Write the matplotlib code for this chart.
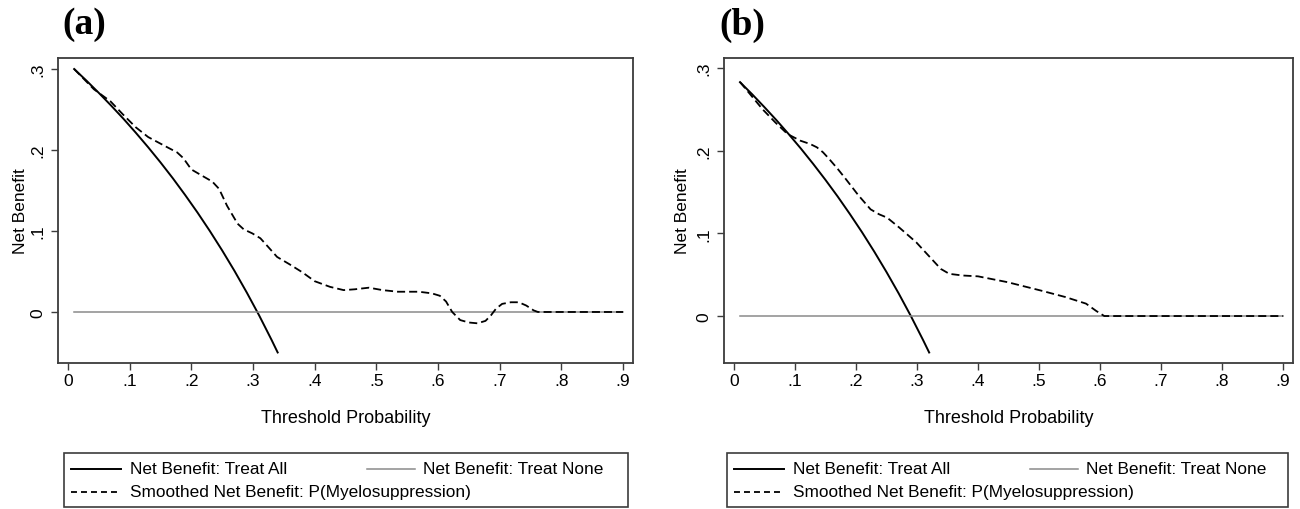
import matplotlib
matplotlib.use("Agg")
import matplotlib.pyplot as plt
from matplotlib.lines import Line2D
from matplotlib.patches import Rectangle

plt.rcParams['font.family'] = ['Liberation Sans', 'DejaVu Sans']
plt.rcParams['lines.scale_dashes'] = False

# panel (a): net benefit, treat all
a_all_x = [0.01, 0.03, 0.05, 0.07, 0.09, 0.11, 0.13, 0.15, 0.17, 0.19, 0.21,
           0.23, 0.25, 0.27, 0.29, 0.31, 0.33, 0.34]
a_all_y = [0.300, 0.2856, 0.2705, 0.2548, 0.2385, 0.2213, 0.2034, 0.1847, 0.1651,
           0.1444, 0.1228, 0.1000, 0.0760, 0.0507, 0.0239, -0.0043, -0.0343, -0.0500]

# panel (a): smoothed net benefit of the model
a_sm_x = [0.01, 0.042, 0.069, 0.089, 0.11, 0.13, 0.157, 0.177, 0.187, 0.20, 0.218,
          0.234, 0.245, 0.258, 0.275, 0.285, 0.299, 0.312, 0.325, 0.339, 0.359,
          0.38, 0.40, 0.425, 0.447, 0.465, 0.488, 0.51, 0.535, 0.569, 0.59, 0.603,
          0.613, 0.623, 0.636, 0.65, 0.664, 0.677, 0.686, 0.694, 0.704, 0.718,
          0.731, 0.743, 0.755, 0.762, 0.80, 0.85, 0.90]
a_sm_y = [0.300, 0.275, 0.260, 0.244, 0.228, 0.216, 0.205, 0.197, 0.190, 0.176, 0.168,
          0.161, 0.152, 0.131, 0.109, 0.102, 0.097, 0.091, 0.080, 0.068, 0.059,
          0.049, 0.038, 0.031, 0.027, 0.028, 0.030, 0.027, 0.025, 0.025, 0.023, 0.020,
          0.013, 0.000, -0.010, -0.013, -0.014, -0.011, -0.004, 0.004, 0.010, 0.012,
          0.012, 0.008, 0.002, 0.000, 0.000, 0.000, 0.000]

# panel (b): net benefit, treat all
b_all_x = [0.01, 0.03, 0.05, 0.07, 0.09, 0.11, 0.13, 0.15, 0.17, 0.19, 0.21,
           0.23, 0.25, 0.27, 0.29, 0.31, 0.32]
b_all_y = [0.2828, 0.2681, 0.2526, 0.2366, 0.2198, 0.2023, 0.1839, 0.1647, 0.1446,
           0.1234, 0.1013, 0.0779, 0.0533, 0.0274, 0.0000, -0.0290, -0.0441]

# panel (b): smoothed net benefit of the model
b_sm_x = [0.01, 0.047, 0.068, 0.088, 0.109, 0.125, 0.136, 0.146, 0.156, 0.17, 0.183,
          0.204, 0.224, 0.238, 0.251, 0.271, 0.285, 0.299, 0.319, 0.339, 0.353,
          0.375, 0.40, 0.448, 0.502, 0.543, 0.577, 0.594, 0.607, 0.70, 0.80, 0.90]
b_sm_y = [0.283, 0.250, 0.234, 0.220, 0.212, 0.208, 0.204, 0.198, 0.190, 0.178, 0.166,
          0.146, 0.129, 0.123, 0.119, 0.107, 0.098, 0.089, 0.073, 0.057, 0.051,
          0.049, 0.048, 0.041, 0.031, 0.023, 0.015, 0.006, 0.000, 0.000, 0.000, 0.000]

none_x = [0.01, 0.90]
none_y = [0.0, 0.0]

x_ticks = [0, .1, .2, .3, .4, .5, .6, .7, .8, .9]
x_labels = ['0', '.1', '.2', '.3', '.4', '.5', '.6', '.7', '.8', '.9']
y_ticks = [0, .1, .2, .3]
y_labels = ['0', '.1', '.2', '.3']

panels = [
    ('(a)', a_all_x, a_all_y, a_sm_x, a_sm_y, (-0.063, 0.3136)),
    ('(b)', b_all_x, b_all_y, b_sm_x, b_sm_y, (-0.0568, 0.312)),
]

W, H = 1300, 510
fig = plt.figure(figsize=(13, 5.1), dpi=100)

ax_left = [58, 724]
ax_width = [575, 569]
ylab_x = [-0.053, -0.060]
leg_left = [64, 727]
leg_width = [564, 561]
tag_x = [62, 719]

dash = (5.8, 2.9)
spine_col = '#3c3c3c'

for i, (tag, ax_, ay_, sx, sy, ylim) in enumerate(panels):
    ax = fig.add_axes([ax_left[i] / W, 1 - 364 / H, ax_width[i] / W, 305 / H])
    ax.plot(ax_, ay_, color='black', lw=1.4)
    ax.plot(none_x, none_y, color='#8a8a8a', lw=1.1)
    ax.plot(sx, sy, color='black', lw=1.3, ls='--', dashes=dash)

    ax.set_xlim(-0.0162, 0.9162)
    ax.set_ylim(*ylim)
    ax.set_xticks(x_ticks)
    ax.set_xticklabels(x_labels, fontsize=12.5)
    ax.set_yticks(y_ticks)
    ax.set_yticklabels(y_labels, fontsize=12.5, rotation=90, va='center')
    ax.tick_params(length=5, width=1, color=spine_col)
    ax.tick_params(axis='x', pad=2)
    ax.tick_params(axis='y', pad=4)
    for s in ax.spines.values():
        s.set_color(spine_col)
        s.set_linewidth(1.3)

    ax.set_xlabel('Threshold Probability', fontsize=13)
    ax.xaxis.set_label_coords(0.5, -0.151)
    ax.set_ylabel('Net Benefit', fontsize=12.5)
    ax.yaxis.set_label_coords(ylab_x[i], 0.5)

    fig.text(tag_x[i] / W, 1 - 25 / H, tag, fontsize=27, fontweight='bold',
             family='Liberation Serif', ha='left', va='center')

    # legend box
    lx = leg_left[i]
    fig.add_artist(Rectangle((lx / W, 1 - 508 / H), leg_width[i] / W, 54 / H,
                             transform=fig.transFigure, fill=False,
                             edgecolor=spine_col, lw=1.2))
    r1 = 1 - 470 / H
    r2 = 1 - 493 / H
    fig.add_artist(Line2D([(lx + 7) / W, (lx + 57) / W], [r1, r1], color='black', lw=1.4))
    fig.text((lx + 66) / W, r1, 'Net Benefit: Treat All', fontsize=12.4, va='center')
    fig.add_artist(Line2D([(lx + 303) / W, (lx + 351) / W], [r1, r1], color='#8a8a8a', lw=1.1))
    fig.text((lx + 359) / W, r1, 'Net Benefit: Treat None', fontsize=12.4, va='center')
    fig.add_artist(Line2D([(lx + 7) / W, (lx + 57) / W], [r2, r2], color='black', lw=1.3,
                          ls='--', dashes=(4.3, 2.9)))
    fig.text((lx + 66) / W, r2, 'Smoothed Net Benefit: P(Myelosuppression)', fontsize=12.4,
             va='center')

fig.savefig('out.png', dpi=100)
